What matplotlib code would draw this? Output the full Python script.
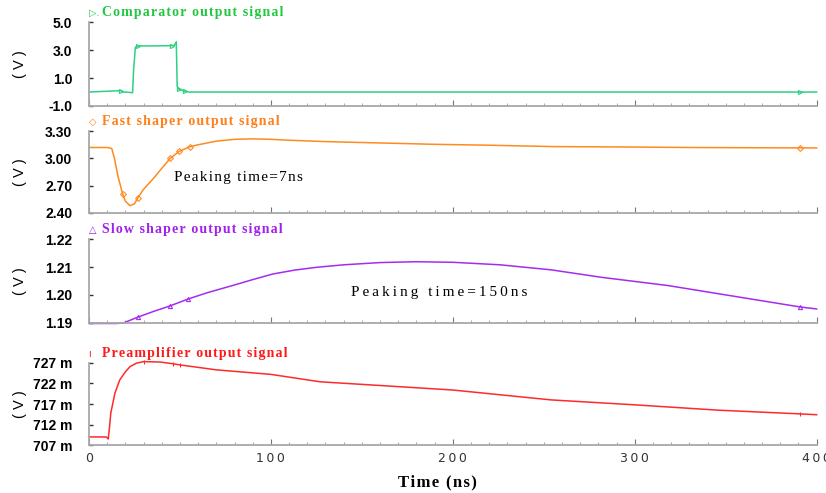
import matplotlib.pyplot as plt
import numpy as np

# time axis (ns)
t_max = 400

# comparator output (V)
comp_t = [0, 17.6, 18.5, 20, 24, 24.5, 25.5, 27, 35, 45.5, 47, 48, 48.5, 49.5, 53, 55, 391, 400]
comp_v = [0, 0.1, 0.0, 0.0, -0.05, 1.5, 3.2, 3.3, 3.3, 3.32, 3.35, 3.6, 0.4, 0.2, 0.05, 0, 0, 0]
comp_marks = [1, 7, 9, 13, 14, 16]

# fast shaper output (V)
fast_t = [0, 10, 12.5, 14, 16, 18.5, 20, 22.5, 25, 27, 30, 35, 40, 44.6, 49.6, 55.3, 60, 70, 80,
          90, 100, 110, 130, 160, 190, 220, 256, 300, 330, 370, 391, 400]
fast_v = [3.12, 3.12, 3.11, 3.0, 2.8, 2.61, 2.53, 2.48, 2.50, 2.57, 2.66, 2.77, 2.89, 3.0, 3.077,
          3.128, 3.15, 3.19, 3.21, 3.215, 3.21, 3.20, 3.185, 3.17, 3.155, 3.145, 3.13, 3.125,
          3.12, 3.117, 3.116, 3.115]
fast_marks = [5, 9, 13, 14, 15, 30]

# slow shaper output (V)
slow_t = [0, 15, 19, 27, 35, 44.6, 54.7, 65, 79, 90, 101, 113, 125, 140, 160, 180, 200, 226, 254,
          282, 318, 355, 391, 400]
slow_v = [1.1898, 1.1898, 1.1900, 1.1921, 1.1940, 1.1961, 1.1986, 1.2008, 1.2034, 1.2055, 1.2075,
          1.2089, 1.2099, 1.2108, 1.2116, 1.2119, 1.2117, 1.2108, 1.2090, 1.2063, 1.2034, 1.1995,
          1.1957, 1.1950]
slow_marks = [3, 5, 6, 22]

# preamplifier output (mV)
pre_t = [0, 9.5, 10.6, 11.2, 12, 14.3, 17, 20, 22.6, 26, 30, 39, 46, 50, 70, 100, 127, 160, 200,
         254, 300, 346, 391, 400]
pre_v = [709.0, 709.0, 708.5, 711.0, 714.8, 719.7, 722.9, 724.8, 726.1, 726.9, 727.3, 727.2, 726.8,
         726.5, 725.3, 724.2, 722.4, 721.5, 720.4, 718.0, 716.8, 715.5, 714.6, 714.4]
pre_marks = [10, 12, 13, 22]

comp_ticks = [-1.0, 1.0, 3.0, 5.0]
fast_ticks = [2.40, 2.70, 3.00, 3.30]
slow_ticks = [1.19, 1.20, 1.21, 1.22]
pre_ticks = [707, 712, 717, 722, 727]

x_ticks = [0, 100, 200, 300, 400]

SERIF = ['Liberation Serif', 'DejaVu Serif']
SANS = ['Liberation Sans', 'DejaVu Sans']


def spaced(s, sep='\u200a'):
    return sep.join(s)


fig = plt.figure(figsize=(8.26, 4.93), dpi=100)

left, width = 0.1077, 0.881
panels = [
    (0.785, 0.170),
    (0.568, 0.166),
    (0.345, 0.170),
    (0.097, 0.167),
]

specs = [
    (comp_t, comp_v, comp_marks, comp_ticks, [f"{v:.1f}" for v in comp_ticks],
     '#2bd283', '#22c840', '\u25b7.', 'Comparator output signal', '>'),
    (fast_t, fast_v, fast_marks, fast_ticks, [f"{v:.2f}" for v in fast_ticks],
     '#ff8a1e', '#ff7f1a', '\u25c7', 'Fast shaper output signal', 'D'),
    (slow_t, slow_v, slow_marks, slow_ticks, [f"{v:.2f}" for v in slow_ticks],
     '#a42cf0', '#a020f0', '\u25b3 ', 'Slow shaper output signal', '^'),
    (pre_t, pre_v, pre_marks, pre_ticks, [f"{v} m" for v in pre_ticks],
     '#ff2a2a', '#ff1a1a', '\u0131 ', 'Preamplifier output signal', '|'),
]

axes = []
for (bottom, height), spec in zip(panels, specs):
    t, v, marks, yt, ylab, lc, tc, glyph, title, mk = spec
    ax = fig.add_axes([left, bottom, width, height])
    ax.plot(t, v, color=lc, lw=1.1, marker=mk, markevery=marks, markersize=3,
            markerfacecolor='none', markeredgewidth=0.8, clip_on=False)
    ax.set_xlim(0, t_max)
    ax.set_ylim(yt[0], yt[-1])
    ax.set_yticks(yt)
    ax.set_yticklabels(ylab)
    ax.set_xticks(x_ticks)
    ax.set_xticks(np.arange(0, t_max + 1, 10), minor=True)
    for s in ['top', 'right']:
        ax.spines[s].set_visible(False)
    for s in ['left', 'bottom']:
        ax.spines[s].set_color('#a8a8a8')
        ax.spines[s].set_linewidth(1.3)
    ax.tick_params(axis='y', direction='in', length=3, width=1, color='#333333',
                   pad=12, labelsize=10)
    ax.tick_params(axis='x', which='major', direction='in', length=4, width=0.8,
                   color='#777777', pad=5)
    ax.tick_params(axis='x', which='minor', direction='in', length=2, width=0.6,
                   color='#999999')
    for lab in ax.get_yticklabels():
        lab.set_fontfamily(SANS)
        lab.set_fontweight('bold')
    ax.text(0.0, 1.05, glyph, transform=ax.transAxes, color=tc, fontsize=7,
            family='DejaVu Sans', ha='left', va='bottom')
    ax.text(0.018, 1.035, spaced(title), transform=ax.transAxes, color=tc,
            fontsize=10, family=SERIF, fontweight='bold', ha='left', va='bottom')
    fig.text(20 / 826, bottom + height / 2, spaced('(V)', ' '), rotation=90,
             ha='center', va='center', fontsize=10.5, family=SANS)
    axes.append(ax)

for ax in axes[:-1]:
    ax.tick_params(axis='x', labelbottom=False)

axes[-1].set_xticklabels([spaced(str(x), '\u2009') for x in x_ticks],
                         fontsize=9, family='DejaVu Sans', color='#333333')

axes[1].text(47, 2.795, spaced('Peaking time=7ns'), fontsize=11, family=SERIF,
             ha='left', va='center')
axes[2].text(144, 1.2009, spaced('Peaking time=150ns', '\u2009'), fontsize=11, family=SERIF,
             ha='left', va='center')

fig.text(437 / 826, 1 - 482 / 493, spaced('Time (ns)'), fontsize=12, family=SERIF,
         fontweight='bold', ha='center', va='center')

fig.savefig('out.png', dpi=100)
